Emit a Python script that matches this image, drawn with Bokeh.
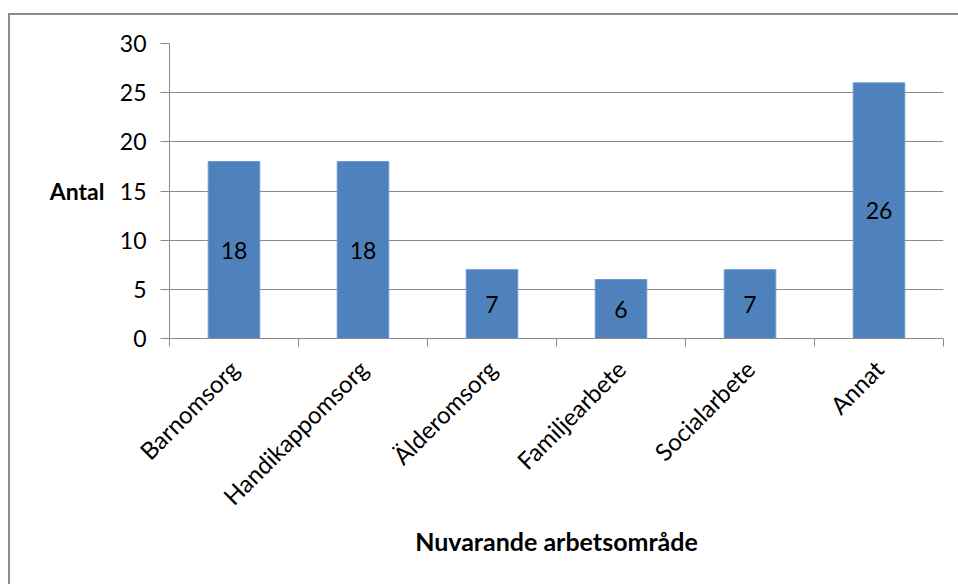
import math
from bokeh.plotting import figure
from bokeh.models import FixedTicker, Range1d, LinearAxis, InlineStyleSheet
from bokeh.core.properties import value
from bokeh.embed import file_html
from bokeh.resources import INLINE

categories = ["Barnomsorg", "Handikappomsorg", "Älderomsorg", "Familjearbete", "Socialarbete", "Annat"]
counts = [18, 18, 7, 6, 7, 26]
y_ticks = [0, 5, 10, 15, 20, 25, 30]
y_title = "Antal"
x_title = "Nuvarande arbetsområde"

FONT = "Lato"
GRAY = "#8a8a8a"
centers = [i + 0.5 for i in range(len(categories))]
bounds = list(range(len(categories) + 1))

p = figure(width=958, height=584, output_backend="svg", toolbar_location=None,
           x_range=Range1d(0, len(categories)), y_range=Range1d(0, 30),
           min_border_left=169, min_border_right=15, min_border_top=43, min_border_bottom=246)
# chart-area border (left and top edges; the others run off the page in the original)
p.stylesheets = [InlineStyleSheet(css="""
:host {
  background-image: linear-gradient(#8c8c8c, #8c8c8c), linear-gradient(#8c8c8c, #8c8c8c);
  background-position: 8px 13px, 8px 13px;
  background-size: 2px 100%, 100% 2px;
  background-repeat: no-repeat, no-repeat;
}
""")]
p.outline_line_color = None
p.background_fill_color = "white"
p.border_fill_color = None

# grid
p.xgrid.grid_line_color = None
p.ygrid.grid_line_color = GRAY
p.ygrid.grid_line_width = 1
p.ygrid.ticker = FixedTicker(ticks=y_ticks)

# y axis
p.yaxis.ticker = FixedTicker(ticks=y_ticks)
p.yaxis.axis_line_color = GRAY
p.yaxis.major_tick_line_color = GRAY
p.yaxis.major_tick_out = 9
p.yaxis.major_tick_in = 0
p.yaxis.minor_tick_line_color = None
p.yaxis.major_label_text_font = FONT
p.yaxis.major_label_text_font_size = "23px"
p.yaxis.major_label_text_color = "black"
p.yaxis.major_label_standoff = 14

# y title as a horizontal label on a second, line-less axis
title_axis = LinearAxis(ticker=FixedTicker(ticks=[15]), major_label_overrides={15: y_title},
                        axis_line_color=None, major_tick_line_color=None, minor_tick_line_color=None,
                        major_tick_out=0, major_label_standoff=12,
                        major_label_text_font=FONT, major_label_text_font_style="bold",
                        major_label_text_font_size="23px", major_label_text_color="black")
p.add_layout(title_axis, "left")

# x axis
p.xaxis.ticker = FixedTicker(ticks=centers, minor_ticks=bounds)
p.xaxis.major_label_overrides = {c: n for c, n in zip(centers, categories)}
p.xaxis.axis_line_color = GRAY
p.xaxis.major_tick_line_color = None
p.xaxis.minor_tick_line_color = GRAY
p.xaxis.minor_tick_out = 8
p.xaxis.minor_tick_in = 0
p.xaxis.major_label_orientation = math.pi / 4
p.xaxis.major_label_text_font = FONT
p.xaxis.major_label_text_font_size = "24px"
p.xaxis.major_label_text_color = "black"
p.xaxis.major_label_standoff = 18
p.xaxis.axis_label = x_title
p.xaxis.axis_label_text_font = FONT
p.xaxis.axis_label_text_font_style = "bold"
p.xaxis.axis_label_text_font_size = "25px"
p.xaxis.axis_label_text_color = "black"
p.xaxis.axis_label_standoff = 2

# bars
p.vbar(x=centers, top=counts, width=0.4, fill_color="#4F81BD", line_color="#6d9bd1", line_width=1)
p.text(x=centers, y=[c / 2 for c in counts], text=[str(c) for c in counts],
       text_align="center", text_baseline="middle", text_font=value(FONT),
       text_font_size="23px", text_color="black")

open("out.html", "w").write(file_html(p, INLINE))
